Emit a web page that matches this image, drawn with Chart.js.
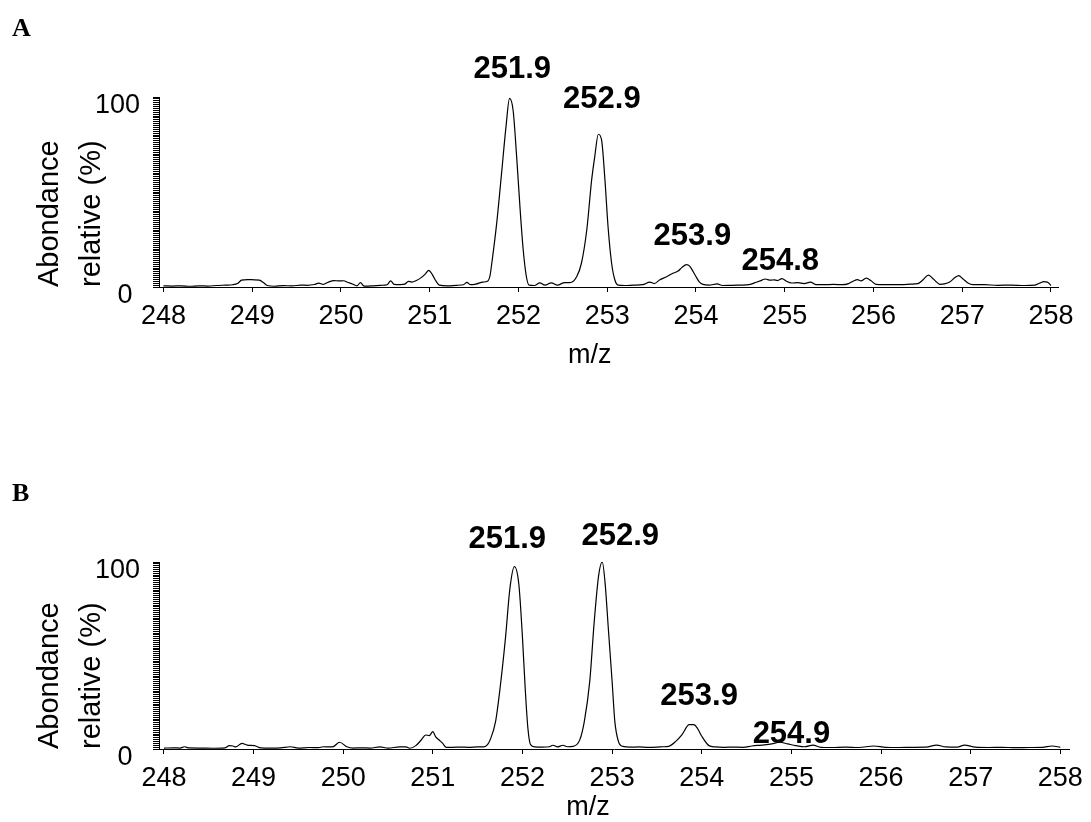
<!DOCTYPE html>
<html>
<head>
<meta charset="utf-8">
<script src="https://cdn.jsdelivr.net/npm/chart.js@4.4.1/dist/chart.umd.min.js"></script>
<style>
  body { margin: 0; background: #fff; }
  .panel { position: absolute; left: 0; width: 1091px; height: 411px; }
  .panel canvas { display: block; }
  .tag { position: absolute; left: 12px; font: bold 26px/26px "Liberation Serif", "Times New Roman", serif; color: #000; }
</style>
</head>
<body>
<div class="panel" style="top:0"><canvas id="chartA" width="1091" height="411"></canvas></div>
<div class="panel" style="top:411px"><canvas id="chartB" width="1091" height="411"></canvas></div>
<div class="tag" style="top:15px">A</div>
<div class="tag" style="top:480px">B</div>

<script>
// spectrum A (m/z, relative abundance %)
const mzA = [
  248.00, 248.10, 248.20, 248.30, 248.40, 248.50, 248.60, 248.70, 248.78, 248.84,
  248.88, 248.95, 249.02, 249.08, 249.13, 249.17, 249.25, 249.35, 249.45, 249.55,
  249.62, 249.70, 249.75, 249.80, 249.86, 249.92, 249.98, 250.03, 250.08, 250.13,
  250.18, 250.22, 250.26, 250.35, 250.45, 250.52, 250.56, 250.60, 250.67, 250.72,
  250.76, 250.80, 250.85, 250.90, 250.95, 250.99, 251.03, 251.07, 251.11, 251.20,
  251.30, 251.38, 251.42, 251.46, 251.52, 251.60, 251.65, 251.68, 251.70, 251.755,
  251.81, 251.86, 251.90, 251.94, 251.98, 252.017, 252.054, 252.09, 252.12, 252.18,
  252.24, 252.30, 252.37, 252.44, 252.52, 252.58, 252.656, 252.71, 252.77, 252.825,
  252.86, 252.90, 252.937, 252.975, 253.01, 253.05, 253.087, 253.125, 253.20, 253.30,
  253.40, 253.48, 253.53, 253.59, 253.67, 253.74, 253.80, 253.84, 253.895, 253.93,
  253.97, 254.00, 254.04, 254.08, 254.15, 254.24, 254.30, 254.40, 254.50, 254.60,
  254.68, 254.74, 254.78, 254.84, 254.88, 254.92, 254.97, 255.02, 255.08, 255.15,
  255.22, 255.29, 255.35, 255.45, 255.55, 255.65, 255.72, 255.77, 255.82, 255.86,
  255.92, 255.97, 256.03, 256.12, 256.22, 256.32, 256.42, 256.50, 256.56, 256.62,
  256.68, 256.75, 256.80, 256.86, 256.92, 256.96, 257.01, 257.07, 257.12, 257.25,
  257.40, 257.55, 257.70, 257.82, 257.88, 257.92, 257.96, 258.00
];
const abundA = [
  0.6, 0.5, 0.6, 0.4, 0.6, 0.5, 0.8, 1.0, 1.2, 2.0,
  3.6, 3.9, 3.8, 3.6, 2.2, 0.8, 0.4, 0.7, 0.6, 1.0,
  0.9, 1.3, 2.0, 1.4, 2.6, 3.4, 3.2, 3.3, 2.4, 1.6,
  0.6, 2.3, 0.5, 0.6, 0.9, 1.2, 3.2, 1.4, 1.3, 1.5,
  3.0, 2.6, 3.4, 4.8, 6.8, 8.8, 6.5, 3.2, 1.0, 0.6,
  0.9, 1.2, 2.4, 1.2, 1.5, 2.6, 3.0, 6.0, 12.5, 33.5,
  59.8, 84.4, 99.3, 93, 68.6, 42.3, 19.5, 5.4, 1.0, 0.8,
  2.2, 1.0, 2.2, 1.0, 2.3, 2.3, 5.4, 12.5, 30, 56.3,
  68.6, 80.4, 77.4, 56.3, 31.7, 12.5, 3.7, 1.0, 0.8, 1.0,
  1.2, 2.6, 1.8, 3.7, 5.4, 7.2, 8.4, 10.2, 11.8, 11.0,
  8.0, 5.5, 2.6, 1.4, 1.0, 1.6, 0.8, 0.9, 1.0, 1.2,
  2.5, 3.5, 4.2, 3.6, 3.8, 3.4, 4.4, 3.0, 2.1, 2.3,
  1.8, 2.6, 1.3, 1.2, 1.4, 1.2, 1.8, 3.0, 3.9, 3.2,
  4.7, 3.4, 1.4, 1.2, 1.3, 1.2, 1.5, 1.8, 3.8, 6.3,
  4.0, 1.4, 1.6, 2.6, 5.0, 6.0, 4.2, 2.0, 1.3, 1.2,
  0.9, 1.0, 0.8, 1.0, 2.2, 2.8, 2.6, 0.8
];

// spectrum B
const mzB = [
  248.00, 248.10, 248.18, 248.23, 248.28, 248.40, 248.55, 248.68, 248.73, 248.77,
  248.80, 248.87, 248.93, 249.01, 249.08, 249.20, 249.30, 249.41, 249.50, 249.62,
  249.72, 249.78, 249.85, 249.89, 249.96, 250.04, 250.11, 250.20, 250.30, 250.41,
  250.50, 250.63, 250.70, 250.74, 250.81, 250.87, 250.92, 250.96, 251.00, 251.03,
  251.07, 251.11, 251.15, 251.22, 251.30, 251.40, 251.50, 251.57, 251.61, 251.64,
  251.70, 251.75, 251.81, 251.86, 251.91, 251.96, 252.00, 252.03, 252.06, 252.09,
  252.14, 252.22, 252.30, 252.34, 252.39, 252.45, 252.50, 252.565, 252.64, 252.69,
  252.75, 252.80, 252.85, 252.89, 252.92, 252.96, 253.00, 253.03, 253.07, 253.12,
  253.20, 253.30, 253.40, 253.50, 253.57, 253.63, 253.71, 253.78, 253.86, 253.91,
  253.95, 254.00, 254.08, 254.15, 254.25, 254.35, 254.46, 254.56, 254.67, 254.78,
  254.87, 254.96, 255.05, 255.15, 255.24, 255.33, 255.45, 255.60, 255.75, 255.92,
  256.05, 256.20, 256.35, 256.50, 256.62, 256.72, 256.85, 256.93, 257.05, 257.20,
  257.35, 257.50, 257.65, 257.80, 257.91, 258.00
];
const abundB = [
  0.5, 0.6, 0.5, 1.2, 0.6, 0.5, 0.4, 0.6, 1.8, 1.6,
  1.1, 3.0, 2.1, 1.8, 0.6, 0.5, 0.6, 1.2, 0.5, 0.8,
  0.7, 1.2, 1.1, 1.3, 3.6, 1.2, 0.5, 0.6, 0.5, 1.1,
  0.5, 1.1, 1.1, 0.4, 1.8, 4.8, 7.5, 7.2, 9.3, 6.6,
  4.8, 3.0, 0.9, 0.9, 1.0, 0.9, 1.1, 1.1, 2.3, 5.0,
  14.8, 32.6, 59.3, 86, 97.5, 87.7, 59.3, 32.6, 11.2, 2.3,
  1.1, 1.0, 1.2, 2.0, 1.1, 2.0, 1.2, 1.4, 5.0, 14.8,
  36, 68, 93, 100, 89.5, 62.8, 36, 14.8, 4.1, 1.4,
  1.0, 1.1, 0.9, 1.0, 1.2, 1.4, 4.1, 7.7, 13, 13,
  11.2, 6.8, 1.8, 1.1, 0.9, 1.0, 0.9, 1.6, 2.1, 2.7,
  3.6, 2.7, 1.8, 1.2, 2.1, 0.9, 0.8, 1.0, 0.8, 1.6,
  0.9, 0.8, 0.9, 1.0, 2.1, 1.1, 1.0, 2.1, 1.0, 0.8,
  0.9, 0.7, 0.8, 0.9, 1.6, 0.9
];

// axis ticks
const xTickValues = [248, 249, 250, 251, 252, 253, 254, 255, 256, 257, 258];
const xTickLabels = ['248', '249', '250', '251', '252', '253', '254', '255', '256', '257', '258'];
const yTickValues = [];
for (let v = 0; v <= 100; v++) yTickValues.push(v);

// peak annotations: text, m/z anchor, abundance level of text baseline
const peakTextA = ['251.9', '252.9', '253.9', '254.8'];
const peakMzA = [251.93, 252.94, 253.96, 254.95];
const peakLevelA = [110, 94, 22, 9];
const peakTextB = ['251.9', '252.9', '253.9', '254.9'];
const peakMzB = [251.83, 253.09, 253.97, 255.0];
const peakLevelB = [107.5, 109, 23.6, 3.4];

Chart.defaults.font.family = '"Liberation Sans", Arial, sans-serif';
Chart.defaults.color = '#000';

const peakLabels = {
  id: 'peakLabels',
  afterDatasetsDraw(chart, args, opts) {
    const { ctx, scales: { x, y } } = chart;
    ctx.save();
    ctx.font = 'bold 31px "Liberation Sans", Arial, sans-serif';
    ctx.fillStyle = '#000';
    ctx.textAlign = 'center';
    ctx.textBaseline = 'alphabetic';
    opts.text.forEach((t, i) => {
      ctx.fillText(t, x.getPixelForValue(opts.mz[i]), y.getPixelForValue(opts.level[i]));
    });
    ctx.restore();
  }
};

function spectrum(id, mz, abund, labels, p) {
  return new Chart(document.getElementById(id), {
    type: 'line',
    data: {
      datasets: [{
        data: mz.map((m, i) => ({ x: m, y: abund[i] })),
        borderColor: '#000',
        borderWidth: 1.2,
        pointRadius: 0,
        fill: false,
        cubicInterpolationMode: 'monotone'
      }]
    },
    plugins: [peakLabels],
    options: {
      responsive: false,
      animation: false,
      layout: { padding: { top: p.top, right: p.right, left: 0, bottom: 0 } },
      plugins: {
        legend: { display: false },
        tooltip: { enabled: false },
        peakLabels: labels
      },
      scales: {
        x: {
          type: 'linear',
          min: p.xMin,
          max: p.xMax,
          afterBuildTicks: s => { s.ticks = xTickValues.map(v => ({ value: v })); },
          afterFit: s => { s.height = p.xHeight; },
          grid: { drawOnChartArea: false, tickLength: 5, color: '#000' },
          border: { display: true, color: '#000', width: 1 },
          ticks: {
            autoSkip: false,
            maxRotation: 0,
            padding: 8,
            font: { size: 27 },
            callback: (v, i) => xTickLabels[i]
          },
          title: {
            display: true,
            text: p.xTitle,
            font: { size: 27, lineHeight: 1 },
            padding: { top: 0, bottom: p.xTitlePad }
          }
        },
        y: {
          min: 0,
          max: 100,
          afterBuildTicks: s => { s.ticks = yTickValues.map(v => ({ value: v })); },
          afterFit: s => { s.width = 159; },
          grid: { drawOnChartArea: false, tickLength: 6, color: '#000' },
          border: { display: true, color: '#000', width: 1 },
          ticks: {
            autoSkip: false,
            padding: 13,
            labelOffset: 9,
            font: { size: 27 },
            callback: v => (v === 100 ? '100' : v === 0 ? '0 ' : '')
          },
          title: {
            display: true,
            text: ['Abondance', 'relative (%)'],
            align: 'start',
            font: { size: 29, lineHeight: 1.45 },
            padding: { top: 29, bottom: 0 }
          }
        }
      }
    }
  });
}

spectrum('chartA', mzA, abundA,
  { text: peakTextA, mz: peakMzA, level: peakLevelA },
  { top: 97, right: 33, xHeight: 124, xMin: 247.95, xMax: 258.08, xTitle: 'm/z     ', xTitlePad: 41.5 });

spectrum('chartB', mzB, abundB,
  { text: peakTextB, mz: peakMzB, level: peakLevelB },
  { top: 151, right: 14, xHeight: 73, xMin: 247.945, xMax: 258.1, xTitle: 'm/z       ', xTitlePad: 0.5 });
</script>
</body>
</html>
